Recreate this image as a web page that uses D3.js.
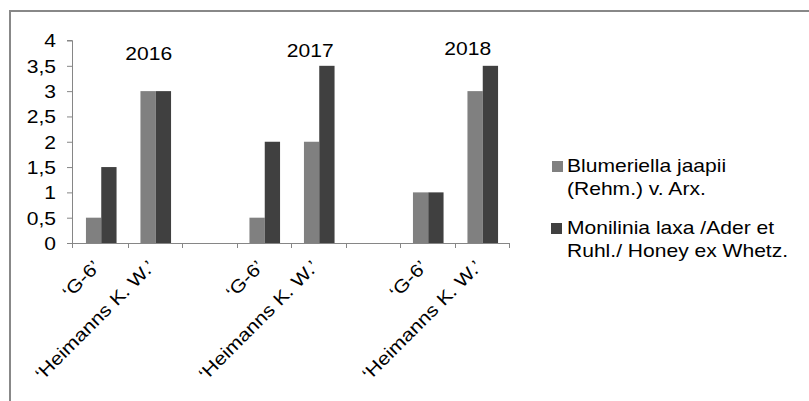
<!DOCTYPE html>
<html>
<head>
<meta charset="utf-8">
<script src="https://cdn.jsdelivr.net/npm/d3@7"></script>
<style>
  body { margin: 0; background: #fff; }
  svg text { font-family: "Liberation Sans", Arial, sans-serif; }
</style>
</head>
<body>
<svg id="chart" width="809" height="401"></svg>
<script>
// categories on the x axis (blank slots separate the years)
const categories = ['g1', 'h1', 'b1', 'g2', 'h2', 'b2', 'g3', 'h3'];
const catLabels = ['‘G-6’', '‘Heimanns K. W.’', '', '‘G-6’', '‘Heimanns K. W.’', '', '‘G-6’', '‘Heimanns K. W.’'];
const seriesNames = ['Blumeriella jaapii (Rehm.) v. Arx.', 'Monilinia laxa /Ader et Ruhl./ Honey ex Whetz.'];
const blumeriella = [0.5, 3, null, 0.5, 2, null, 1, 3];
const monilinia = [1.5, 3, null, 2, 3.5, null, 1, 3.5];
const years = ['2016', '2017', '2018'];
const yearCats = ['h1', 'h2', 'h3'];
const yTicks = [0, 0.5, 1, 1.5, 2, 2.5, 3, 3.5, 4];

const colors = ['#808080', '#404040'];
const legendLines = [['Blumeriella jaapii', '(Rehm.) v. Arx.'], ['Monilinia laxa /Ader et', 'Ruhl./ Honey ex Whetz.']];

const svg = d3.select('#chart');
const plotLeft = 72, plotRight = 509, plotTop = 40.5, plotBottom = 243;
const stretch = 1.17; // text in the original is a bit wide
const fontSize = 18;

// frame (only top and left edges are visible)
svg.append('path')
  .attr('d', 'M10,401 V11 H809')
  .attr('fill', 'none')
  .attr('stroke', '#888')
  .attr('stroke-width', 2);

const x = d3.scaleBand().domain(categories).range([plotLeft + 1, plotRight]);
const xSub = d3.scaleBand().domain([0, 1]).range([0, 30.6]);
const y = d3.scaleLinear().domain([0, 4]).range([plotBottom, plotTop]);

const fmt = d => String(d).replace('.', ',');

// y axis
const yAxis = svg.append('g')
  .attr('transform', `translate(${plotLeft},0)`)
  .call(d3.axisLeft(y).tickValues(yTicks).tickSize(5).tickPadding(11).tickFormat(fmt));
yAxis.select('.domain').attr('stroke', '#868686').attr('d', `M-5,${plotTop}H0.5V${plotBottom}`);
yAxis.selectAll('.tick line').attr('stroke', '#868686');
yAxis.selectAll('.tick text')
  .attr('font-size', fontSize)
  .attr('fill', '#000')
  .attr('x', -16 / stretch)
  .attr('dy', '0.36em')
  .attr('transform', `scale(${stretch},1)`);

// x axis
const xAxis = svg.append('g')
  .attr('transform', `translate(0,${plotBottom})`)
  .call(d3.axisBottom(x).tickSize(0).tickFormat(''));
xAxis.select('.domain').attr('stroke', '#868686').attr('d', `M${plotLeft},0.5H${plotRight}`);
xAxis.selectAll('.tick').remove();
const tickPos = d3.range(categories.length + 1).map(i => (i === 0 ? plotLeft : x.range()[0] + i * x.step()));
xAxis.selectAll('line.sep')
  .data(tickPos)
  .enter().append('line')
  .attr('class', 'sep')
  .attr('x1', d => Math.round(d) + 0.5).attr('x2', d => Math.round(d) + 0.5)
  .attr('y1', 0).attr('y2', 5)
  .attr('stroke', '#868686');

// bars
const groupW = xSub.range()[1];
[blumeriella, monilinia].forEach((vals, si) => {
  svg.append('g').selectAll('rect')
    .data(categories.map((c, i) => ({ c, v: vals[i] })).filter(d => d.v != null))
    .enter().append('rect')
    .attr('x', d => x(d.c) + (x.bandwidth() - groupW) / 2 + 1 + xSub(si))
    .attr('width', xSub.bandwidth())
    .attr('y', d => y(d.v))
    .attr('height', d => y(0) - y(d.v))
    .attr('fill', colors[si]);
});

// x labels, rotated
svg.append('g').selectAll('text')
  .data(categories.map((c, i) => ({ c, t: catLabels[i] })).filter(d => d.t))
  .enter().append('text')
  .attr('transform', d => `translate(${x(d.c) + x.bandwidth() / 2 + 1},${plotBottom + 25}) rotate(-45) scale(${stretch},1)`)
  .attr('text-anchor', 'end')
  .attr('font-size', fontSize)
  .attr('fill', '#000')
  .text(d => d.t);

// year labels
const yearOffsets = [-6, -8, -14];
const yearY = [60, 57, 55];
svg.append('g').selectAll('text')
  .data(years)
  .enter().append('text')
  .attr('transform', (d, i) => `translate(${x(yearCats[i]) + x.bandwidth() / 2 + yearOffsets[i]},${yearY[i]}) scale(${stretch},1)`)
  .attr('text-anchor', 'middle')
  .attr('font-size', fontSize)
  .attr('fill', '#000')
  .text(d => d);

// legend
const legendY = [172, 234];
const legendX = [552, 551];
legendLines.forEach((lines, i) => {
  svg.append('rect')
    .attr('x', legendX[i]).attr('y', legendY[i] - 11)
    .attr('width', 11).attr('height', 11)
    .attr('fill', colors[i]);
  const t = svg.append('text')
    .attr('transform', `translate(567,${legendY[i]}) scale(${stretch},1)`)
    .attr('font-size', fontSize)
    .attr('fill', '#000');
  lines.forEach((l, j) => {
    t.append('tspan').attr('x', 0).attr('dy', j ? 23 : 0).text(l);
  });
});
</script>
</body>
</html>
